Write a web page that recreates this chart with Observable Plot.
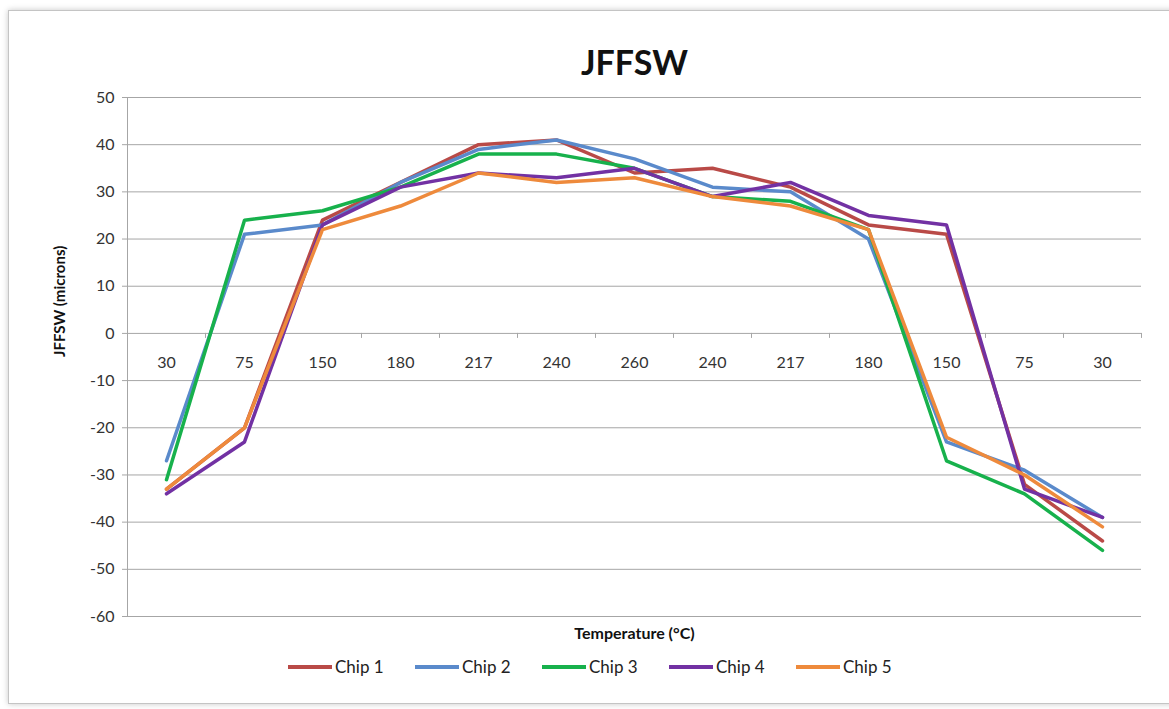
<!DOCTYPE html>
<html><head><meta charset="utf-8">
<script src="https://cdn.jsdelivr.net/npm/d3@7"></script>
<script src="https://cdn.jsdelivr.net/npm/@observablehq/plot@0.6"></script>
<style>
body{margin:0;background:#fff;font-family:Lato,"Open Sans",sans-serif;}
#wrap{position:relative;width:1169px;height:709px;overflow:hidden;background:#fff;}
#frame{position:absolute;left:8px;top:10px;width:1170px;height:692px;border:1px solid #c4c4c4;box-shadow:0 0 6px rgba(0,0,0,0.22);}
#chart{position:absolute;left:0;top:0;}
#legend{position:absolute;left:288px;top:656px;display:flex;font-size:17px;color:#222;font-family:Lato,sans-serif;}
.item{display:flex;align-items:center;width:127px;}
.sw{width:44px;height:4px;margin-right:3px;}
</style></head>
<body>
<div id="wrap"><div id="frame"></div><div id="chart"></div><div id="legend"></div></div>
<script>
const temps = ["30","75","150","180","217","240","260","240","217","180","150","75","30"];
const chipNames = ["Chip 1","Chip 2","Chip 3","Chip 4","Chip 5"];
const chip1 = [-33,-20,24,32,40,41,34,35,31,23,21,-32,-44];
const chip2 = [-27,21,23,32,39,41,37,31,30,20,-23,-29,-39];
const chip3 = [-31,24,26,31,38,38,35,29,28,22,-27,-34,-46];
const chip4 = [-34,-23,23,31,34,33,35,29,32,25,23,-33,-39];
const chip5 = [-33,-20,22,27,34,32,33,29,27,22,-22,-30,-41];
const chipColors = ["#B94A47","#5A8ACB","#17B14C","#7231A3","#EE8A3C"];
const yTicks = [50,40,30,20,10,0,-10,-20,-30,-40,-50,-60];

const series = [chip1, chip2, chip3, chip4, chip5];
const rows = [];
series.forEach((vals, s) => vals.forEach((v, i) => rows.push({chip: chipNames[s], i, v})));
const labelRows = temps.map((t, i) => ({i, t}));
const bounds = d3.range(temps.length + 1).map(k => k - 0.5);
const xDomain = [-0.5, temps.length - 0.5];

const font = "Lato, 'Open Sans', sans-serif";
const chart = Plot.plot({
  width: 1169, height: 709,
  marginLeft: 127, marginRight: 28, marginTop: 97, marginBottom: 93,
  style: {fontFamily: font, fontSize: "16px", color: "#333", background: "transparent"},
  x: {type: "linear", domain: xDomain, axis: null},
  y: {domain: [-60, 50], axis: null},
  color: {domain: chipNames, range: chipColors},
  marks: [
    Plot.gridY(yTicks, {stroke: "#a6a6a6", strokeOpacity: 1}),
    Plot.ruleX([xDomain[0]], {stroke: "#a6a6a6"}),
    Plot.axisY(yTicks, {tickSize: 5, tickPadding: 8, stroke: "#a6a6a6", fill: "#333", fontSize: 16, label: null, tickFormat: d => String(d)}),
    Plot.ruleX(bounds, {x: d => d, y1: () => 0, y2: () => 0, insetBottom: -5, stroke: "#a6a6a6"}),
    Plot.text(labelRows, {x: "i", y: () => 0, text: "t", dy: 29, fontSize: 16, fill: "#333"}),
    Plot.line(rows, {x: "i", y: "v", z: "chip", stroke: "chip", strokeWidth: 3.5, strokeLinejoin: "round"}),
    Plot.text(["JFFSW"], {text: d => d, frameAnchor: "top", dy: -47, fontSize: 34, fontWeight: "bold", fill: "#111"}),
    Plot.text(["Temperature (°C)"], {text: d => d, frameAnchor: "bottom", dy: 22, fontSize: 16, fontWeight: "bold", fill: "#111"}),
    Plot.text(["JFFSW (microns)"], {text: d => d, frameAnchor: "left", dx: -67, rotate: -90, fontSize: 15, fontWeight: "bold", fill: "#111"})
  ]
});
document.getElementById("chart").append(chart);

const legend = document.getElementById("legend");
chipNames.forEach((n, k) => {
  const it = document.createElement("div"); it.className = "item";
  const sw = document.createElement("span"); sw.className = "sw"; sw.style.background = chipColors[k];
  const tx = document.createElement("span"); tx.textContent = n;
  it.append(sw, tx); legend.append(it);
});
</script>
</body></html>
